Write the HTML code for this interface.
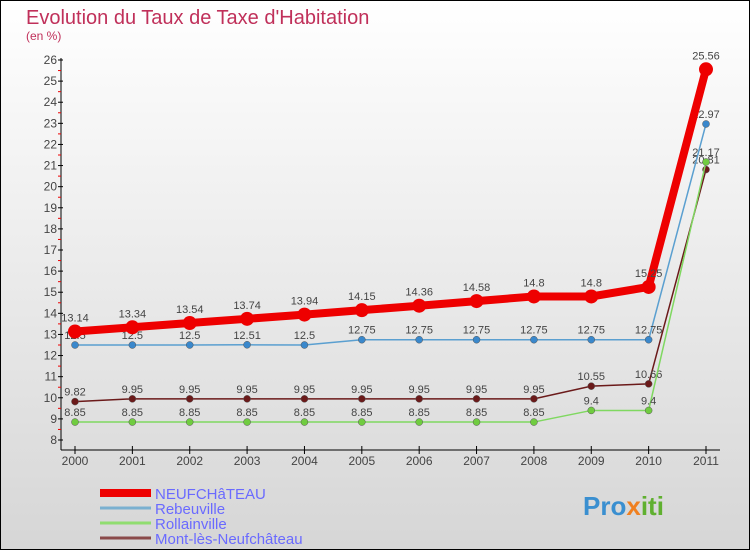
<!DOCTYPE html>
<html><head><meta charset="utf-8"><style>
body{margin:0;}
#c{width:750px;height:550px;position:relative;overflow:hidden;font-family:"Liberation Sans",sans-serif;}
</style></head><body>
<div id="c">
<svg id="s" width="750" height="550" xmlns="http://www.w3.org/2000/svg">
<defs><linearGradient id="bg" x1="0" y1="0" x2="0" y2="1"><stop offset="0" stop-color="#ffffff"/><stop offset="1" stop-color="#d6d6d6"/></linearGradient></defs>
<rect x="0.5" y="0.5" width="749" height="549" fill="url(#bg)" stroke="#000"/>
<text x="26" y="24" font-size="20" fill="#c0305a">Evolution du Taux de Taxe d'Habitation</text>
<text x="26" y="40" font-size="12" fill="#c0305a">(en %)</text>
<g id="axes"></g><g id="series"></g><g id="legend"></g>
<text x="583" y="515" font-size="26" font-weight="bold" fill="#3a8fd0">Pro<tspan fill="#f08020">x</tspan><tspan fill="#60b030">iti</tspan></text>
</svg>
</div>
<script>
const years=[2000,2001,2002,2003,2004,2005,2006,2007,2008,2009,2010,2011];
const neuf=[13.14,13.34,13.54,13.74,13.94,14.15,14.36,14.58,14.8,14.8,15.25,25.56];
const rebe=[12.5,12.5,12.5,12.51,12.5,12.75,12.75,12.75,12.75,12.75,12.75,22.97];
const roll=[8.85,8.85,8.85,8.85,8.85,8.85,8.85,8.85,8.85,9.4,9.4,21.17];
const mont=[9.82,9.95,9.95,9.95,9.95,9.95,9.95,9.95,9.95,10.55,10.66,20.81];
const yTicks=[8,9,10,11,12,13,14,15,16,17,18,19,20,21,22,23,24,25,26];
const names=["NEUFCHâTEAU","Rebeuville","Rollainville","Mont-lès-Neufchâteau"];
const NS="http://www.w3.org/2000/svg";
const X=i=>75+i*(706-75)/11;
const Y=v=>60+(26-v)*(380/18);
function mk(t,a,p){const e=document.createElementNS(NS,t);for(const k in a)e.setAttribute(k,a[k]);p.appendChild(e);return e;}
const ax=document.getElementById('axes');
let l=mk('line',{x1:61,y1:58,x2:61,y2:450,stroke:'#000'},ax);


l=mk('line',{x1:61,y1:450,x2:720,y2:450,stroke:'#000'},ax);


yTicks.forEach(v=>{
 mk('line',{x1:58,y1:Y(v),x2:63,y2:Y(v),stroke:'#000'},ax);
 if(v<26)mk('line',{x1:58,y1:Y(v+0.5),x2:61,y2:Y(v+0.5),stroke:'#e00'},ax);
 const t=mk('text',{x:57,y:Y(v)+4,'font-size':12,'text-anchor':'end',fill:'#444'},ax);t.textContent=v;
 
 
});
years.forEach((y,i)=>{
 mk('line',{x1:X(i),y1:446,x2:X(i),y2:454,stroke:'#000'},ax);
 const t=mk('text',{x:X(i),y:465,'font-size':12,'text-anchor':'middle',fill:'#444'},ax);t.textContent=y;
 
 
});
const sg=document.getElementById('series');
const defs=[[mont,'#6b1a1a',1.5,3.5,'mont'],[roll,'#7fd860',1.5,3.5,'rollainville'],[rebe,'#5a9fd0',1.5,3.5,'rebeuville'],[neuf,'#ee0000',8,7,'neufchateau']];
const fills={mont:'#6b1a1a',rollainville:'#70cc40',rebeuville:'#3a88cc',neufchateau:'#ee0000'};
defs.forEach(([d,c,w,r,n])=>{
 const p=mk('polyline',{points:d.map((v,i)=>X(i)+','+Y(v)).join(' '),fill:'none',stroke:c,'stroke-width':w},sg);
 
 
 d.forEach((v,i)=>{
  const ci=mk('circle',{cx:X(i),cy:Y(v),r:r,fill:fills[n],stroke:r>5?'none':'#555','stroke-width':0.5},sg);
  
  
  const t=mk('text',{x:X(i),y:Y(v)-(r>5?10:6),'font-size':11,'text-anchor':'middle',fill:'#444'},sg);t.textContent=v;
  
  
 });
});
const lg=document.getElementById('legend');
const lc=['#ee0000','#7ab0d0','#90dd70','#8a4a4a'],lw=[8,3,3,3];
names.forEach((n,i)=>{
 const y=493+i*15;
 mk('line',{x1:100,y1:y,x2:151,y2:y,stroke:lc[i],'stroke-width':lw[i]},lg);
 const t=mk('text',{x:155,y:y+6,'font-size':15,fill:'#6a6aff'},lg);t.textContent=n;
 
 
});
</script>
</body></html>
